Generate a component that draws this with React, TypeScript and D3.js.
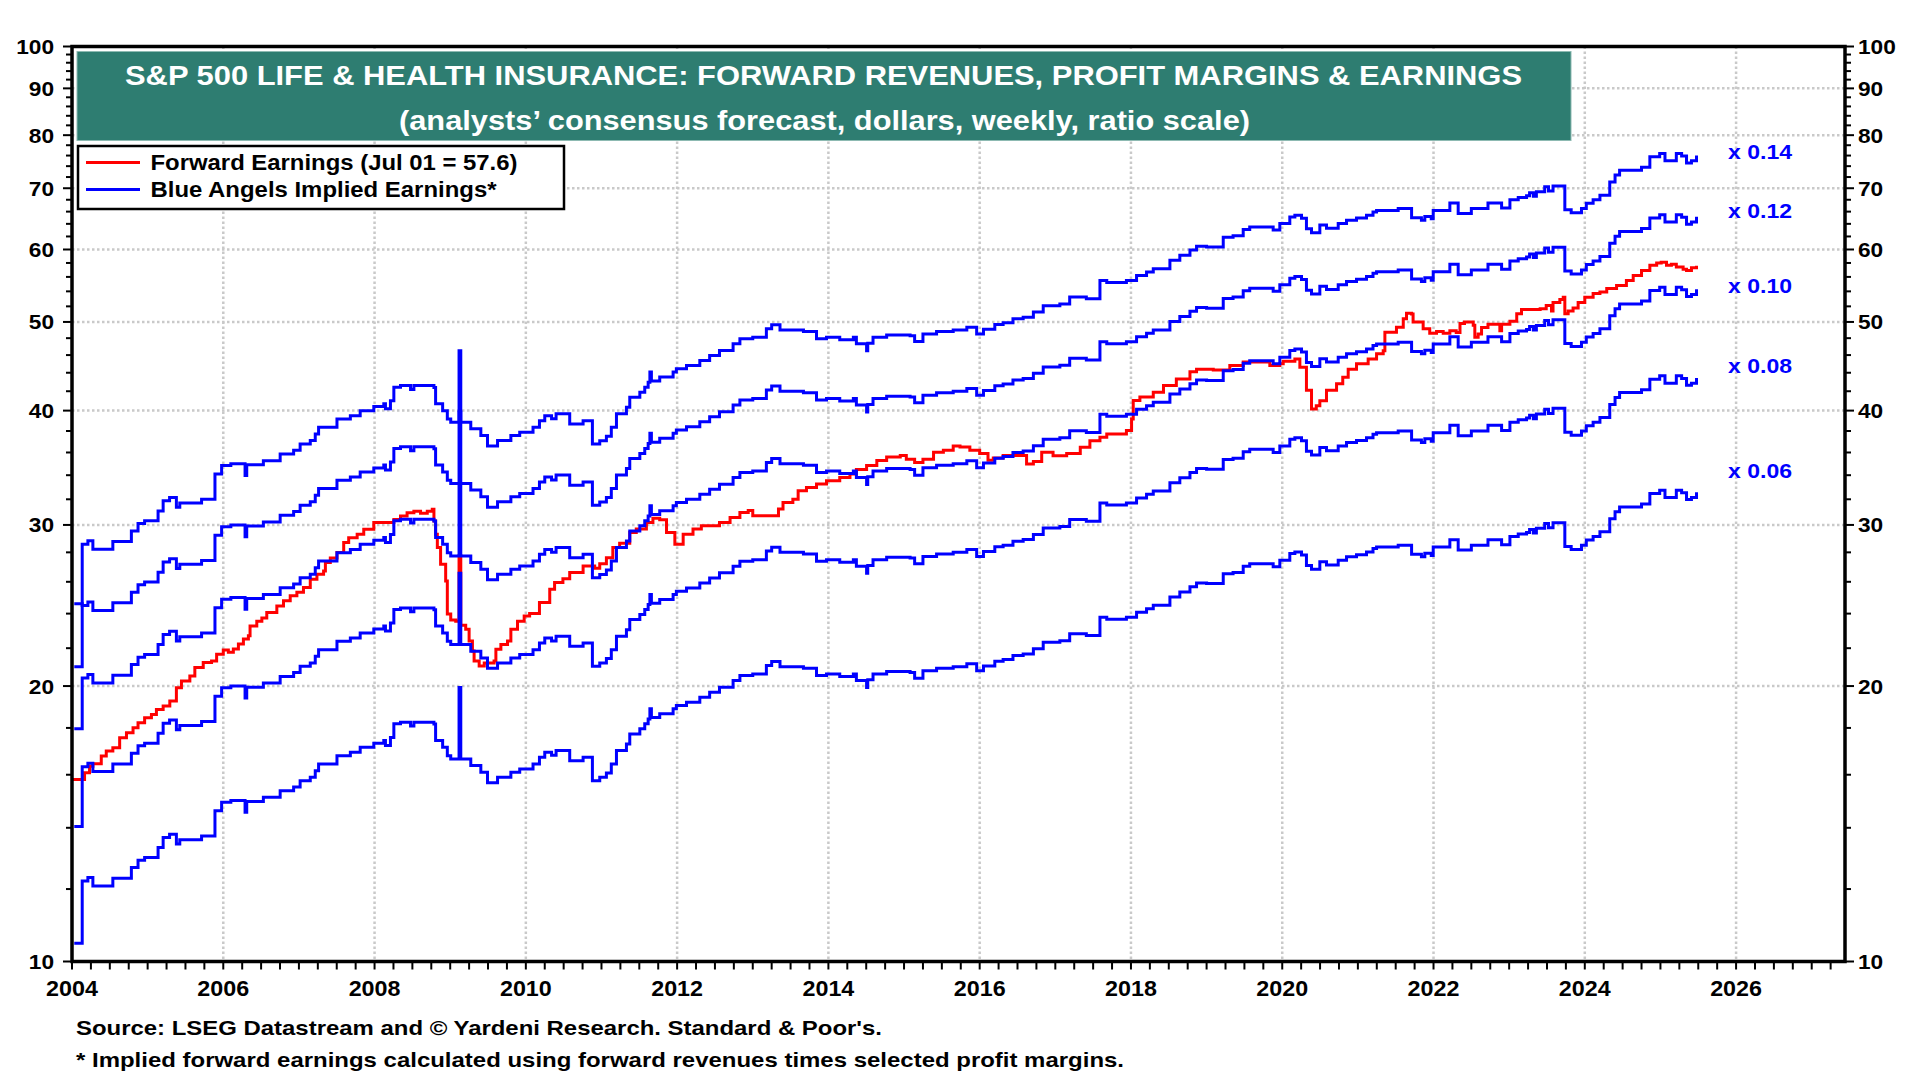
import React from 'react';
import { scaleLinear, scaleLog, line, curveStepAfter, range } from 'd3';

// Forward revenues per share (dollars) (value / 0.14)
const forwardRevenues: [number, number][] = [
  [2004.135, 204.1], [2004.21, 205.9], [2004.276, 201.6], [2004.54, 205.5], [2004.785, 211.1],
  [2004.873, 215.1], [2004.96, 216.5], [2005.138, 222.0], [2005.205, 227.7], [2005.29, 229.6],
  [2005.38, 224.0], [2005.425, 226.4], [2005.713, 228.6], [2005.89, 243.6], [2005.978, 248.9],
  [2006.1, 250.0], [2006.288, 242.6], [2006.31, 249.3], [2006.53, 251.9], [2006.752, 256.1],
  [2006.93, 258.6], [2007.016, 262.7], [2007.15, 265.0], [2007.216, 269.4], [2007.26, 274.0],
  [2007.503, 279.8], [2007.68, 282.1], [2007.81, 285.7], [2007.99, 288.6], [2008.122, 290.7],
  [2008.144, 287.1], [2008.21, 292.9], [2008.255, 303.1], [2008.343, 304.3], [2008.476, 301.4],
  [2008.52, 304.3], [2008.785, 302.9], [2008.807, 290.7], [2008.9, 285.7], [2008.962, 279.8],
  [2009.007, 277.5], [2009.117, 332.1], [2009.14, 277.5], [2009.272, 272.9], [2009.405, 268.3],
  [2009.493, 261.4], [2009.626, 265.0], [2009.802, 268.3], [2009.919, 270.6], [2010.095, 274.0],
  [2010.18, 278.6], [2010.25, 282.1], [2010.34, 280.0], [2010.40, 283.4], [2010.58, 276.3],
  [2010.757, 278.6], [2010.88, 262.7], [2010.977, 264.9], [2011.065, 267.9], [2011.13, 274.0],
  [2011.198, 283.4], [2011.33, 288.1], [2011.374, 295.5], [2011.507, 299.3], [2011.572, 303.1],
  [2011.617, 306.9], [2011.64, 314.8], [2011.66, 307.9], [2011.77, 310.9], [2011.947, 314.8],
  [2011.99, 317.4], [2012.124, 320.0], [2012.3, 324.1], [2012.43, 328.2], [2012.56, 332.4],
  [2012.74, 338.0], [2012.83, 342.3], [2013.0, 343.6], [2013.18, 351.1], [2013.25, 354.6],
  [2013.36, 350.0], [2013.67, 348.6], [2013.843, 342.3], [2013.975, 343.6], [2014.15, 341.4],
  [2014.33, 343.6], [2014.37, 338.0], [2014.505, 332.1], [2014.52, 338.6], [2014.59, 343.6],
  [2014.77, 345.7], [2015.08, 345.0], [2015.14, 340.0], [2015.25, 346.4], [2015.43, 348.6],
  [2015.65, 350.0], [2015.83, 352.5], [2015.96, 346.4], [2016.05, 350.7], [2016.2, 354.9],
  [2016.31, 356.4], [2016.44, 360.0], [2016.575, 361.4], [2016.71, 366.1], [2016.84, 372.1],
  [2017.06, 373.6], [2017.19, 380.2], [2017.41, 378.6], [2017.59, 396.4], [2017.68, 394.3],
  [2017.94, 396.4], [2018.074, 401.4], [2018.206, 405.0], [2018.295, 408.4], [2018.515, 417.1],
  [2018.646, 422.4], [2018.78, 427.9], [2018.867, 432.1], [2019.0, 431.4], [2019.22, 442.1],
  [2019.35, 443.6], [2019.484, 450.7], [2019.57, 453.6], [2019.88, 450.0], [2019.968, 457.5],
  [2020.1, 465.2], [2020.167, 467.1], [2020.255, 463.6], [2020.32, 451.4], [2020.387, 447.1],
  [2020.497, 455.7], [2020.585, 452.1], [2020.74, 457.5], [2020.85, 461.4], [2020.982, 463.9],
  [2021.114, 467.1], [2021.2, 471.1], [2021.247, 472.9], [2021.533, 475.0], [2021.71, 464.3],
  [2021.84, 461.4], [2021.885, 465.7], [2021.97, 462.9], [2021.996, 472.9], [2022.216, 481.8],
  [2022.326, 469.3], [2022.5, 475.0], [2022.72, 481.8], [2022.9, 475.7], [2023.01, 485.7],
  [2023.12, 488.6], [2023.23, 490.7], [2023.27, 494.3], [2023.32, 490.0], [2023.36, 495.7],
  [2023.47, 501.8], [2023.52, 496.4], [2023.58, 502.9], [2023.736, 473.6], [2023.82, 470.0],
  [2023.956, 475.0], [2024.02, 481.4], [2024.11, 485.7], [2024.2, 491.4], [2024.33, 507.9],
  [2024.4, 516.8], [2024.46, 523.2], [2024.75, 527.1], [2024.86, 541.1], [2024.99, 545.7],
  [2025.06, 535.7], [2025.21, 545.7], [2025.28, 542.1], [2025.345, 532.9], [2025.41, 535.7],
  [2025.477, 542.9],
];

// Forward earnings per share (dollars)
const forwardEarnings: [number, number][] = [
  [2004.01, 15.81], [2004.166, 16.08], [2004.232, 16.35], [2004.276, 16.45], [2004.387, 16.77],
  [2004.453, 16.98], [2004.54, 17.12], [2004.63, 17.56], [2004.72, 17.78], [2004.807, 18.01],
  [2004.873, 18.24], [2004.96, 18.47], [2005.05, 18.62], [2005.116, 18.86], [2005.205, 19.02],
  [2005.293, 19.26], [2005.38, 19.92], [2005.447, 20.25], [2005.558, 20.51], [2005.624, 20.95],
  [2005.735, 21.22], [2005.845, 21.3], [2005.912, 21.67], [2006.0, 21.9], [2006.067, 21.77],
  [2006.133, 21.95], [2006.2, 22.23], [2006.266, 22.51], [2006.332, 22.7], [2006.354, 23.26],
  [2006.443, 23.55], [2006.51, 23.74], [2006.575, 24.06], [2006.708, 24.47], [2006.796, 24.79],
  [2006.885, 25.1], [2006.973, 25.32], [2007.06, 25.63], [2007.15, 26.17], [2007.238, 26.5],
  [2007.326, 26.72], [2007.35, 27.3], [2007.415, 27.6], [2007.503, 27.99], [2007.592, 28.7],
  [2007.658, 29.05], [2007.77, 29.31], [2007.857, 29.67], [2007.99, 30.18], [2008.255, 30.41],
  [2008.343, 30.69], [2008.43, 30.93], [2008.52, 31.05], [2008.608, 30.9], [2008.697, 31.05],
  [2008.763, 31.2], [2008.785, 30.3], [2008.807, 29.31], [2008.83, 28.35], [2008.873, 27.18],
  [2008.94, 26.06], [2008.962, 23.97], [2009.007, 23.62], [2009.073, 23.55], [2009.117, 27.76],
  [2009.14, 23.3], [2009.205, 23.07], [2009.25, 22.4], [2009.294, 21.85], [2009.316, 21.3],
  [2009.383, 21.03], [2009.45, 21.2], [2009.58, 21.3], [2009.604, 21.94], [2009.67, 22.2],
  [2009.758, 22.4], [2009.802, 23.07], [2009.89, 23.55], [2009.978, 23.85], [2010.05, 24.0],
  [2010.18, 24.68], [2010.316, 25.52], [2010.38, 25.96], [2010.49, 26.2], [2010.58, 26.62],
  [2010.757, 27.06], [2010.91, 26.9], [2010.977, 27.2], [2011.065, 27.63], [2011.15, 28.35],
  [2011.24, 28.65], [2011.374, 29.43], [2011.46, 29.7], [2011.594, 30.18], [2011.68, 30.5],
  [2011.77, 30.4], [2011.86, 29.43], [2011.97, 28.58], [2012.08, 29.3], [2012.21, 29.7],
  [2012.32, 29.94], [2012.56, 30.18], [2012.7, 30.57], [2012.83, 30.96], [2012.94, 31.1],
  [2013.0, 30.7], [2013.34, 31.22], [2013.4, 31.75], [2013.53, 32.0], [2013.6, 32.7],
  [2013.71, 32.97], [2013.843, 33.25], [2013.975, 33.53], [2014.15, 33.8], [2014.285, 34.1],
  [2014.37, 34.5], [2014.505, 34.84], [2014.64, 35.28], [2014.77, 35.6], [2014.95, 35.72],
  [2015.03, 35.4], [2015.14, 35.1], [2015.25, 35.4], [2015.39, 36.02], [2015.52, 36.2],
  [2015.65, 36.6], [2015.74, 36.5], [2015.87, 36.2], [2016.0, 35.9], [2016.11, 35.3],
  [2016.18, 35.5], [2016.31, 35.72], [2016.62, 34.98], [2016.71, 35.2], [2016.82, 36.02],
  [2016.97, 35.7], [2017.15, 35.9], [2017.33, 36.47], [2017.457, 37.09], [2017.59, 37.4],
  [2017.68, 37.72], [2017.94, 38.04], [2018.008, 39.17], [2018.03, 41.02], [2018.118, 41.4],
  [2018.295, 41.9], [2018.43, 42.6], [2018.6, 43.3], [2018.78, 44.1], [2018.867, 44.4],
  [2019.088, 44.3], [2019.307, 44.8], [2019.484, 45.2], [2019.748, 45.2], [2019.836, 44.8],
  [2019.968, 45.0], [2020.013, 45.3], [2020.167, 45.56], [2020.233, 44.6], [2020.32, 42.1],
  [2020.387, 40.17], [2020.45, 40.5], [2020.497, 41.0], [2020.585, 42.1], [2020.718, 42.8],
  [2020.8, 43.5], [2020.872, 44.4], [2020.982, 45.0], [2021.136, 45.56], [2021.247, 46.14],
  [2021.335, 46.5], [2021.357, 48.73], [2021.51, 49.35], [2021.6, 50.4], [2021.643, 51.1],
  [2021.71, 51.0], [2021.73, 50.0], [2021.863, 49.15], [2021.95, 48.6], [2022.04, 48.8],
  [2022.128, 48.6], [2022.216, 48.9], [2022.3, 48.7], [2022.35, 49.8], [2022.41, 50.0],
  [2022.525, 49.6], [2022.546, 48.1], [2022.59, 48.5], [2022.635, 49.3], [2022.72, 49.7],
  [2022.877, 48.9], [2022.9, 49.7], [2023.01, 50.1], [2023.1, 51.05], [2023.163, 51.6],
  [2023.41, 51.7], [2023.49, 52.1], [2023.56, 51.4], [2023.58, 52.5], [2023.67, 52.9],
  [2023.715, 53.2], [2023.736, 51.05], [2023.78, 51.4], [2023.845, 51.8], [2023.912, 52.5],
  [2024.0, 53.2], [2024.11, 53.7], [2024.2, 53.9], [2024.29, 54.4], [2024.42, 54.8],
  [2024.55, 55.5], [2024.64, 56.2], [2024.75, 56.9], [2024.86, 57.65], [2024.95, 58.0],
  [2025.01, 58.1], [2025.08, 57.65], [2025.145, 57.8], [2025.21, 57.4], [2025.3, 57.1],
  [2025.345, 56.9], [2025.41, 57.3], [2025.477, 57.6],
];

// Blue Angels: selected profit margins, first weekly value of each line, label spots
const margins = [0.06, 0.08, 0.10, 0.12, 0.14];
const firstWeekValues = [10.47, 14.05, 17.96, 24.6, 21.0];
const firstWeekDate = 2004.03;
const marginLabelValues = [34.4, 44.8, 54.8, 66.1, 76.6];

const yMajorTicks = range(10, 101, 10);
const yMinorTicks = range(12, 100, 2).filter(v => v % 10 !== 0);
const yGridValues = range(20, 91, 10);
const xLabelYears = range(2004, 2027, 2);
const xGridYears = range(2006, 2027, 2);
const xQuarterTicks = range(2004, 2027.44, 0.25);

const W = 1920;
const H = 1080;
const left = 72, right = 1845, top = 46.5, bottom = 961.5;
const FONT = '"Liberation Sans", Arial, sans-serif';

export default function App() {
  const x = scaleLinear().domain([2004, 2027.44]).range([left, right]);
  const y = scaleLog().domain([10, 100]).range([bottom, top]);

  const lineGen = line<[number, number]>()
    .x(d => x(d[0]))
    .y(d => y(d[1]))
    .curve(curveStepAfter);

  const blueSeries = margins.map((m, i) => [
    [firstWeekDate, firstWeekValues[i]] as [number, number],
    ...forwardRevenues.map(([d, r]) => [d, r * m] as [number, number]),
  ]);

  return (
    <div style={{ position: 'absolute', left: 0, top: 0, width: W, height: H, background: '#fff' }}>
      <svg width={W} height={H} style={{ display: 'block', fontFamily: FONT }}>
        <defs>
          <clipPath id="plot">
            <rect x={left} y={top} width={right - left} height={bottom - top} />
          </clipPath>
        </defs>
        <rect width={W} height={H} fill="#fff" />

        {/* grid */}
        <g stroke="#c9c9c9" strokeWidth={2.5} strokeDasharray="2.5 2.5">
          {yGridValues.map(v => (
            <line key={'gy' + v} x1={left} x2={right} y1={y(v)} y2={y(v)} />
          ))}
          {xGridYears.map(yr => (
            <line key={'gx' + yr} x1={x(yr)} x2={x(yr)} y1={top} y2={bottom} />
          ))}
        </g>

        {/* series */}
        <g clipPath="url(#plot)" fill="none" strokeWidth={3} strokeLinejoin="miter">
          <path d={lineGen(forwardEarnings) || ''} stroke="#ff0000" />
          {blueSeries.map((s, i) => (
            <path key={'b' + i} d={lineGen(s) || ''} stroke="#0000ff" />
          ))}
        </g>

        {/* margin labels */}
        {margins.map((m, i) => (
          <text key={'ml' + i} x={1728} y={y(marginLabelValues[i]) + 7} fill="#0000ff"
            fontSize={20} fontWeight="bold" textLength={64} lengthAdjust="spacingAndGlyphs">
            {'x ' + m.toFixed(2)}
          </text>
        ))}

        {/* title box */}
        <rect x={77} y={51.5} width={1494} height={89} fill="#2e7d71" stroke="#8dbab2" strokeWidth={1} />
        <text x={823.5} y={85} fill="#fff" fontSize={28} fontWeight="bold" textAnchor="middle"
          textLength={1397} lengthAdjust="spacingAndGlyphs">
          S&amp;P 500 LIFE &amp; HEALTH INSURANCE: FORWARD REVENUES, PROFIT MARGINS &amp; EARNINGS
        </text>
        <text x={824.5} y={129.5} fill="#fff" fontSize={27} fontWeight="bold" textAnchor="middle"
          textLength={851} lengthAdjust="spacingAndGlyphs">
          (analysts’ consensus forecast, dollars, weekly, ratio scale)
        </text>

        {/* legend */}
        <rect x={78} y={146} width={486} height={63} fill="#fff" stroke="#000" strokeWidth={2.5} />
        <line x1={86} x2={140} y1={162.5} y2={162.5} stroke="#ff0000" strokeWidth={3} />
        <line x1={86} x2={140} y1={189.5} y2={189.5} stroke="#0000ff" strokeWidth={3} />
        <text x={150.5} y={170} fontSize={22} fontWeight="bold" textLength={367} lengthAdjust="spacingAndGlyphs">
          Forward Earnings (Jul 01 = 57.6)
        </text>
        <text x={150.5} y={197} fontSize={22} fontWeight="bold" textLength={346} lengthAdjust="spacingAndGlyphs">
          Blue Angels Implied Earnings*
        </text>

        {/* y ticks */}
        <g stroke="#000" strokeWidth={2}>
          {yMajorTicks.map(v => (
            <g key={'ym' + v}>
              <line x1={left - 9} x2={left} y1={y(v)} y2={y(v)} />
              <line x1={right} x2={right + 9} y1={y(v)} y2={y(v)} />
            </g>
          ))}
          {yMinorTicks.map(v => (
            <g key={'yn' + v}>
              <line x1={left - 6} x2={left} y1={y(v)} y2={y(v)} />
              <line x1={right} x2={right + 6} y1={y(v)} y2={y(v)} />
            </g>
          ))}
          {xQuarterTicks.map(t => (
            <line key={'xq' + t} x1={x(t)} x2={x(t)} y1={bottom} y2={bottom + 8} />
          ))}
        </g>

        {/* y labels */}
        <g fontSize={21} fontWeight="bold" fill="#000">
          {yMajorTicks.map(v => (
            <g key={'yl' + v}>
              <text transform={`translate(54,${y(v) + 7.5}) scale(1.08,1)`} textAnchor="end">{v}</text>
              <text transform={`translate(1858,${y(v) + 7.5}) scale(1.08,1)`} textAnchor="start">{v}</text>
            </g>
          ))}
        </g>

        {/* x labels */}
        <g fontSize={22} fontWeight="bold" fill="#000">
          {xLabelYears.map(yr => (
            <text key={'xl' + yr} transform={`translate(${x(yr)},996) scale(1.06,1)`} textAnchor="middle">{yr}</text>
          ))}
        </g>

        {/* frame */}
        <rect x={left} y={top} width={right - left} height={bottom - top} fill="none" stroke="#000" strokeWidth={3.5} />

        {/* footnotes */}
        <text x={76} y={1035} fontSize={21} fontWeight="bold" textLength={806} lengthAdjust="spacingAndGlyphs">
          Source: LSEG Datastream and © Yardeni Research. Standard &amp; Poor's.
        </text>
        <text x={76} y={1067} fontSize={21} fontWeight="bold" textLength={1048} lengthAdjust="spacingAndGlyphs">
          * Implied forward earnings calculated using forward revenues times selected profit margins.
        </text>
      </svg>
    </div>
  );
}
